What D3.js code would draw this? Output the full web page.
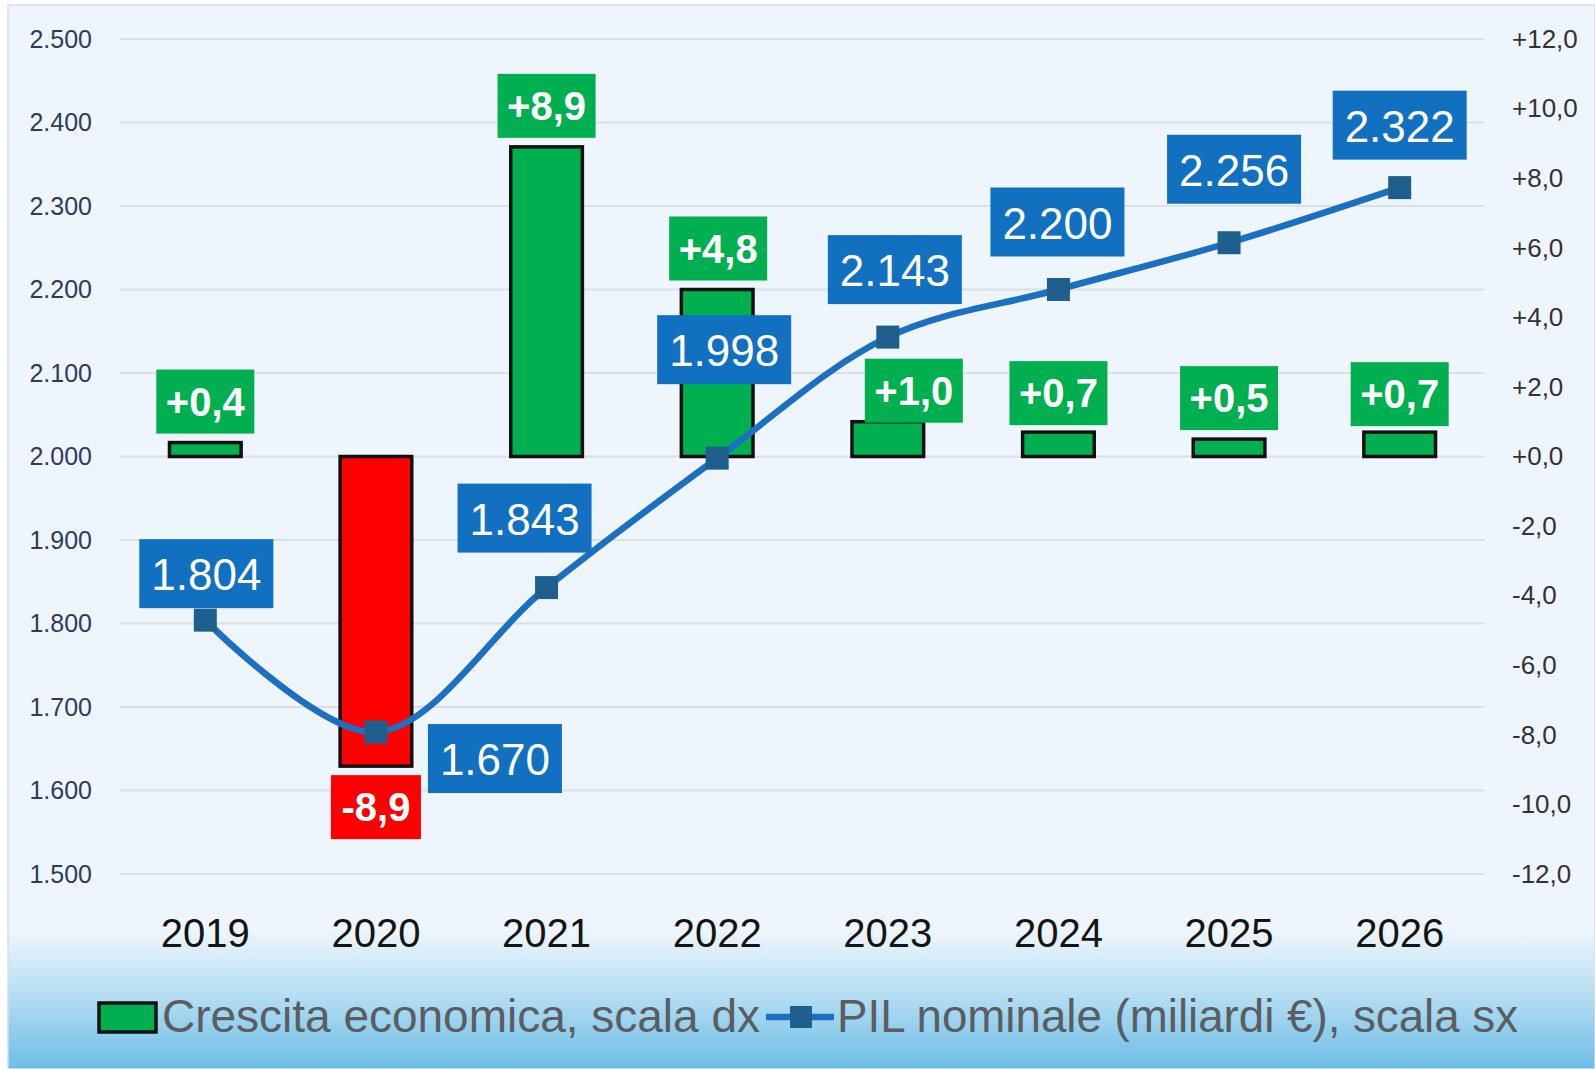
<!DOCTYPE html>
<meta charset="utf-8">
<script src="https://d3js.org/d3.v7.min.js"></script>
<style>
  body { margin: 0; background: #fff; }
  text { font-family: "Liberation Sans", Arial, sans-serif; }
</style>
<svg id="chart" width="1595" height="1069"></svg>
<script>

  // Data
  var years = ["2019", "2020", "2021", "2022", "2023", "2024", "2025", "2026"];
  var crescita = [0.4, -8.9, 8.9, 4.8, 1.0, 0.7, 0.5, 0.7];       // % , scala dx
  var pil = [1804, 1670, 1843, 1998, 2143, 2200, 2256, 2322];      // miliardi €, scala sx
  var leftTicks = [1500, 1600, 1700, 1800, 1900, 2000, 2100, 2200, 2300, 2400, 2500];
  var rightTicks = [-12, -10, -8, -6, -4, -2, 0, 2, 4, 6, 8, 10, 12];
  var legendLabels = ["Crescita economica, scala dx", "PIL nominale (miliardi €), scala sx"];

  // manual label placement (offset of label centre from its mark)
  var pilLabelOffset = [[1, -46], [119, 27], [-22, -69], [7, -108], [7, -67], [-1, -67], [5, -73], [0, -62]];
  var growthLabelOffset = [[0, -41], [0, 41], [0, -41], [1, -41], [26, -31], [0, -39], [0, -41], [0, -38]];

  var svg = d3.select("#chart"),
      width = +svg.attr("width"),
      height = +svg.attr("height");

  // plot area (avoid "top", it is a read-only global)
  var plotL = 120, plotR = 1485, plotT = 39, plotB = 874;

  // background with gradient at the bottom
  var defs = svg.append("defs");
  var grad = defs.append("linearGradient")
      .attr("id", "bg").attr("x1", 0).attr("y1", 0).attr("x2", 0).attr("y2", 1);
  grad.append("stop").attr("offset", "0%").attr("stop-color", "#eff5fc");
  grad.append("stop").attr("offset", "87%").attr("stop-color", "#eef5fc");
  grad.append("stop").attr("offset", "93%").attr("stop-color", "#b6def3");
  grad.append("stop").attr("offset", "100%").attr("stop-color", "#6cbde6");

  svg.append("rect")
      .attr("x", 8).attr("y", 5)
      .attr("width", width - 8).attr("height", height - 5)
      .attr("fill", "url(#bg)")
      .attr("stroke", "#d9dde3").attr("stroke-width", 1.5);

  // Scales
  var x = d3.scaleBand().domain(years).range([plotL, plotR]).paddingInner(0.58).paddingOuter(0.29);
  var yL = d3.scaleLinear().domain([1500, 2500]).range([plotB, plotT]);
  var yR = d3.scaleLinear().domain([-12, 12]).range([plotB, plotT]);
  var cx = function (i) { return x(years[i]) + x.bandwidth() / 2; };

  // gridlines
  svg.append("g")
      .selectAll("line")
      .data(leftTicks)
      .enter()
      .append("line")
      .attr("x1", plotL).attr("x2", plotR)
      .attr("y1", function (d) { return yL(d); })
      .attr("y2", function (d) { return yL(d); })
      .attr("stroke", "#dcdfe4").attr("stroke-width", 2);

  // left axis
  var fmtL = d3.formatLocale({ decimal: ",", thousands: ".", grouping: [3], currency: ["", "€"] }).format(",d");
  var axL = svg.append("g")
      .attr("transform", "translate(92,0)")
      .call(d3.axisLeft(yL).tickValues(leftTicks).tickFormat(fmtL).tickSize(0).tickPadding(0));
  axL.select(".domain").remove();
  axL.selectAll("text")
      .attr("font-size", 25).attr("fill", "#2e3b5c")
      .style("font-family", "Liberation Sans, Arial, sans-serif");

  // right axis
  var fmtR = function (d) { return (d >= 0 ? "+" : "-") + Math.abs(d).toFixed(1).replace(".", ","); };
  var axR = svg.append("g")
      .attr("transform", "translate(1512,0)")
      .call(d3.axisRight(yR).tickValues(rightTicks).tickFormat(fmtR).tickSize(0).tickPadding(0));
  axR.select(".domain").remove();
  axR.selectAll("text")
      .attr("font-size", 26).attr("fill", "#333")
      .style("font-family", "Liberation Sans, Arial, sans-serif");

  // x labels
  svg.append("g")
      .selectAll("text")
      .data(years)
      .enter()
      .append("text")
      .attr("x", function (d, i) { return cx(i); })
      .attr("y", 947)
      .attr("text-anchor", "middle")
      .attr("font-size", 40)
      .attr("fill", "#141414")
      .text(function (d) { return d; });

  // bars
  svg.append("g")
      .selectAll("rect")
      .data(crescita)
      .enter()
      .append("rect")
      .attr("x", function (d, i) { return x(years[i]); })
      .attr("width", x.bandwidth())
      .attr("y", function (d) { return yR(Math.max(0, d)); })
      .attr("height", function (d) { return Math.abs(yR(d) - yR(0)); })
      .attr("fill", function (d) { return d < 0 ? "#ff0000" : "#00b050"; })
      .attr("stroke", "#111").attr("stroke-width", 3.5);

  // line
  var line = d3.line()
      .x(function (d, i) { return cx(i); })
      .y(function (d) { return yL(d); })
      .curve(d3.curveCatmullRom.alpha(0.5));

  svg.append("path")
      .datum(pil)
      .attr("d", line)
      .attr("fill", "none")
      .attr("stroke", "#1b70c2")
      .attr("stroke-width", 6.5);

  var ms = 23;
  svg.append("g")
      .selectAll("rect")
      .data(pil)
      .enter()
      .append("rect")
      .attr("x", function (d, i) { return cx(i) - ms / 2; })
      .attr("y", function (d) { return yL(d) - ms / 2; })
      .attr("width", ms).attr("height", ms)
      .attr("fill", "#1f5f8d");

  // growth labels
  var fmtG = function (d) { return (d >= 0 ? "+" : "") + d.toFixed(1).replace(".", ","); };
  var gLab = svg.append("g")
      .selectAll("g")
      .data(crescita)
      .enter()
      .append("g")
      .attr("transform", function (d, i) {
        return "translate(" + (cx(i) + growthLabelOffset[i][0]) + "," + (yR(d) + growthLabelOffset[i][1]) + ")";
      });
  gLab.append("rect")
      .attr("x", function (d) { return d < 0 ? -45 : -49; })
      .attr("y", -32)
      .attr("width", function (d) { return d < 0 ? 90 : 98; })
      .attr("height", 64)
      .attr("fill", function (d) { return d < 0 ? "#ff0000" : "#00b050"; });
  gLab.append("text")
      .attr("text-anchor", "middle")
      .attr("y", 14)
      .attr("font-size", 40)
      .attr("font-weight", "bold")
      .attr("fill", "#fff")
      .text(fmtG);

  // PIL labels
  var pLab = svg.append("g")
      .selectAll("g")
      .data(pil)
      .enter()
      .append("g")
      .attr("transform", function (d, i) {
        return "translate(" + (cx(i) + pilLabelOffset[i][0]) + "," + (yL(d) + pilLabelOffset[i][1]) + ")";
      });
  pLab.append("rect")
      .attr("x", -67).attr("y", -35)
      .attr("width", 134).attr("height", 69)
      .attr("fill", "#1170c0");
  pLab.append("text")
      .attr("text-anchor", "middle")
      .attr("y", 16)
      .attr("font-size", 44)
      .attr("fill", "#fff")
      .text(function (d) { return fmtL(d); });

  // legend
  var leg = svg.append("g");
  leg.append("rect")
      .attr("x", 99).attr("y", 1003).attr("width", 57).attr("height", 29)
      .attr("fill", "#00b050").attr("stroke", "#111").attr("stroke-width", 3.5);
  leg.append("text")
      .attr("x", 162).attr("y", 1032)
      .attr("font-size", 46).attr("fill", "#5a5d61")
      .attr("textLength", 598).attr("lengthAdjust", "spacingAndGlyphs")
      .text(legendLabels[0]);
  leg.append("line")
      .attr("x1", 766).attr("x2", 834).attr("y1", 1017).attr("y2", 1017)
      .attr("stroke", "#1b70c2").attr("stroke-width", 6.5);
  leg.append("rect")
      .attr("x", 790).attr("y", 1006).attr("width", 22).attr("height", 22)
      .attr("fill", "#1f5f8d");
  leg.append("text")
      .attr("x", 837).attr("y", 1032)
      .attr("font-size", 46).attr("fill", "#5a5d61")
      .attr("textLength", 681).attr("lengthAdjust", "spacingAndGlyphs")
      .text(legendLabels[1]);

</script>
